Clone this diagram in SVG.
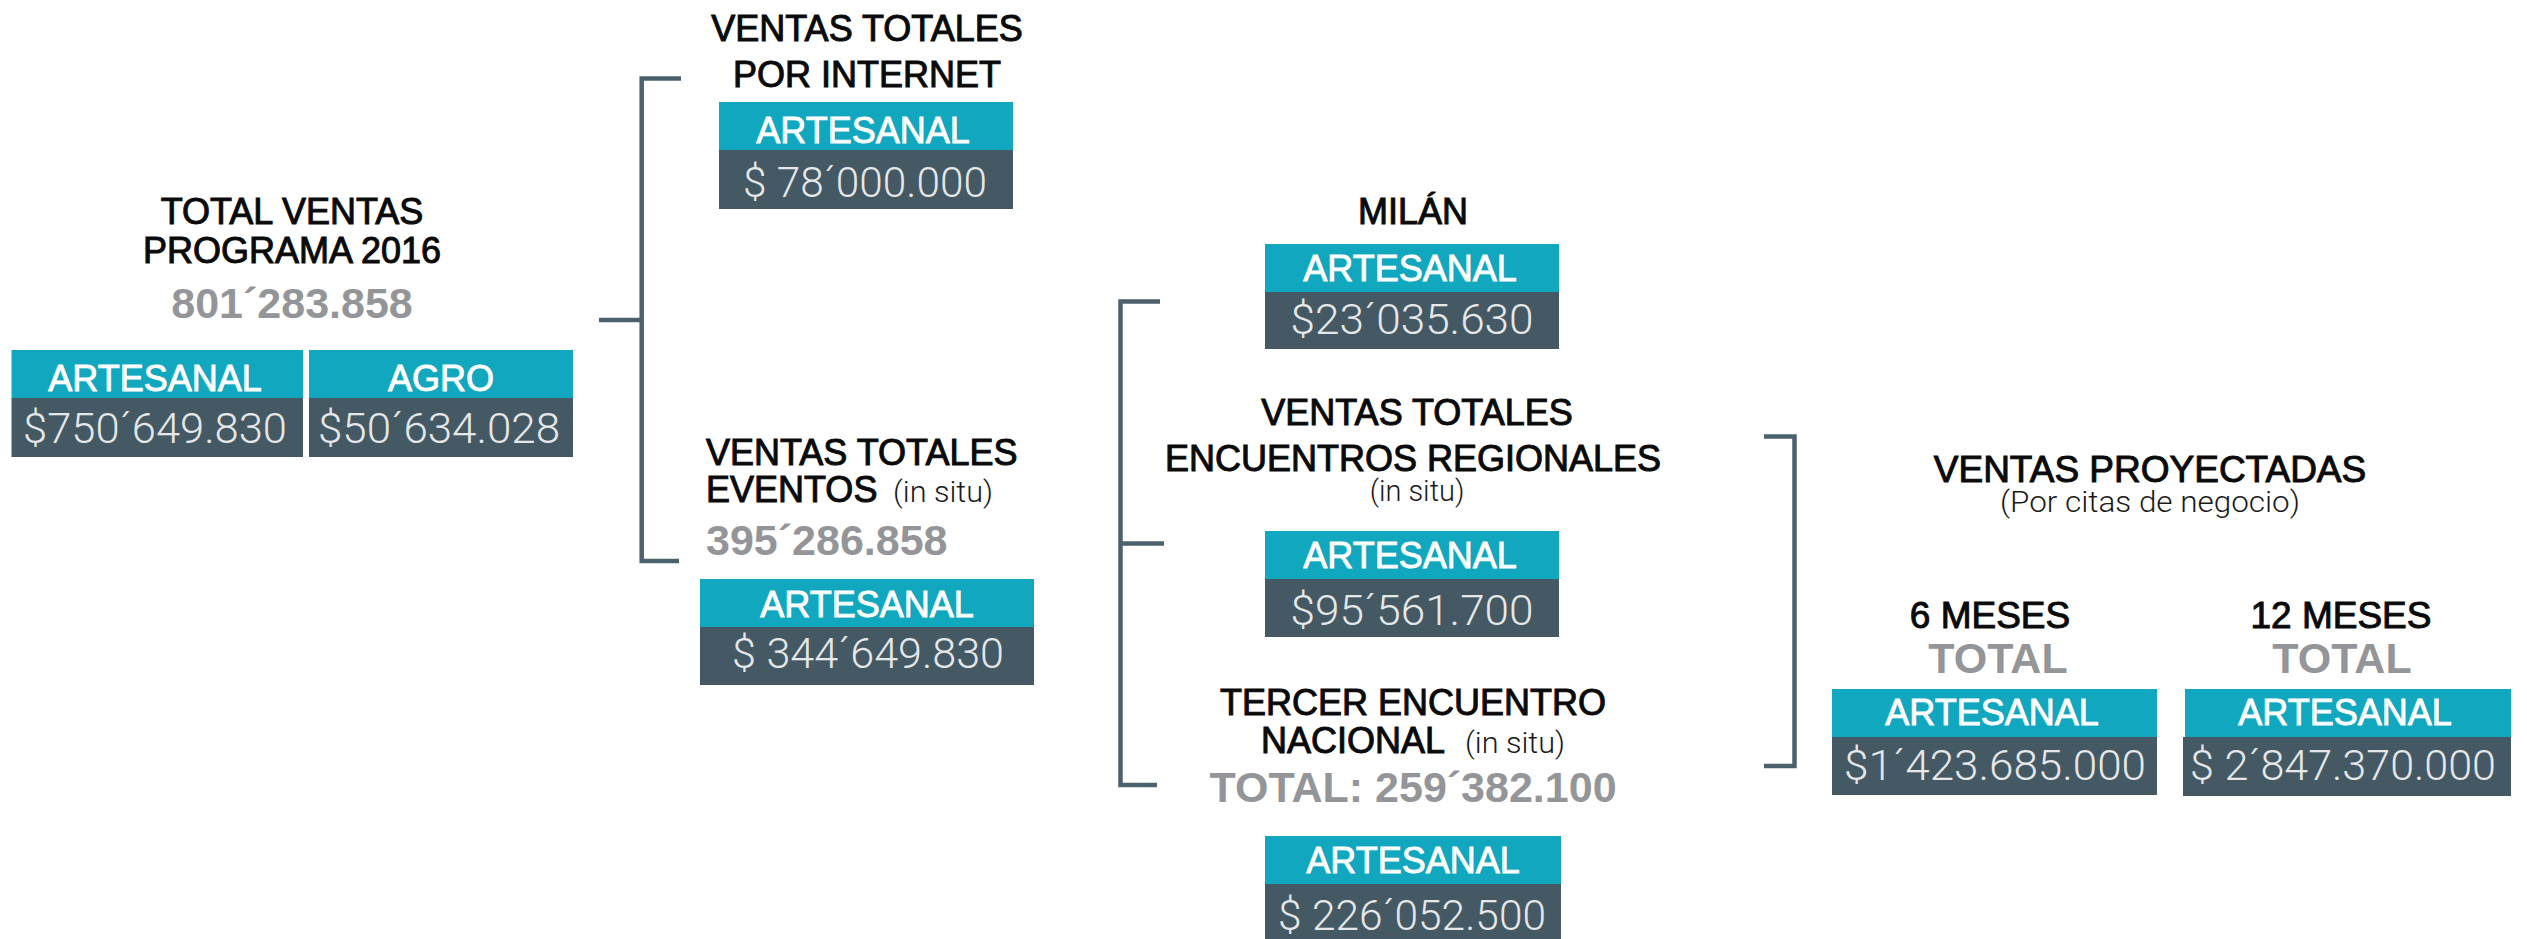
<svg xmlns="http://www.w3.org/2000/svg" width="2527" height="939" viewBox="0 0 2527 939">
<style>
.h{font-family:"Liberation Sans",Arial,sans-serif;font-size:36px;fill:#0a0a0a;stroke:#0a0a0a;stroke-width:1;text-anchor:middle}
.hs{text-anchor:start}
.t{font-family:"Liberation Sans",Arial,sans-serif;font-weight:bold;font-size:43px;fill:#939598;text-anchor:middle}
.lab{font-family:"Liberation Sans",Arial,sans-serif;font-size:36px;fill:#ffffff;stroke:#ffffff;stroke-width:0.9;text-anchor:middle}
.val{font-family:Roboto,"Liberation Sans",sans-serif;font-weight:300;font-size:42px;fill:#e6e7e8;text-anchor:middle}
.sub{font-family:Roboto,"Liberation Sans",sans-serif;font-weight:300;font-size:29px;fill:#1a1a1a;text-anchor:middle}
.teal{fill:#10a7bf}
.dark{fill:#445964}
.br{stroke:#4b616c;stroke-width:4.5;fill:none}
</style>
<rect width="2527" height="939" fill="#ffffff"/>
<g id="connectors">
<path class="br" d="M681,78.5 H641.7 V561 H679"/>
<path class="br" d="M599,320 H641.7"/>
<path class="br" d="M1160,301.5 H1120.5 V785 H1157"/>
<path class="br" d="M1120.5,543.5 H1164"/>
<path class="br" d="M1764,436.5 H1794.5 V766 H1764"/>
</g>
<g id="total-programa">
<text class="h" x="292" y="224">TOTAL VENTAS</text>
<text class="h" x="292" y="263">PROGRAMA 2016</text>
<text class="t" x="292" y="318">801´283.858</text>
<rect class="teal" x="11.5" y="350" width="291.5" height="48"/>
<rect class="dark" x="11.5" y="398" width="291.5" height="59"/>
<rect class="teal" x="309" y="350" width="264" height="48"/>
<rect class="dark" x="309" y="398" width="264" height="59"/>
<text class="lab" x="155" y="391">ARTESANAL</text>
<text class="lab" x="441" y="391">AGRO</text>
<text class="val" x="155" y="443" textLength="264" lengthAdjust="spacingAndGlyphs">$750´649.830</text>
<text class="val" x="439" y="443" textLength="242" lengthAdjust="spacingAndGlyphs">$50´634.028</text>
</g>
<g id="ventas-internet">
<text class="h" x="867" y="41">VENTAS TOTALES</text>
<text class="h" x="867" y="87">POR INTERNET</text>
<rect class="teal" x="719" y="102" width="294" height="48"/>
<rect class="dark" x="719" y="150" width="294" height="59"/>
<text class="lab" x="863" y="143">ARTESANAL</text>
<text class="val" x="865" y="197" textLength="244" lengthAdjust="spacingAndGlyphs">$ 78´000.000</text>
</g>
<g id="ventas-eventos">
<text class="h hs" x="706" y="465">VENTAS TOTALES</text>
<text class="h hs" x="706" y="502">EVENTOS</text>
<text class="sub" x="943" y="502" textLength="100" lengthAdjust="spacingAndGlyphs">(in situ)</text>
<text class="t" x="706" y="555" style="text-anchor:start">395´286.858</text>
<rect class="teal" x="700" y="579" width="334" height="48"/>
<rect class="dark" x="700" y="627" width="334" height="58"/>
<text class="lab" x="867" y="617">ARTESANAL</text>
<text class="val" x="868" y="668" textLength="272" lengthAdjust="spacingAndGlyphs">$ 344´649.830</text>
</g>
<g id="milan">
<text class="h" x="1413" y="224">MILÁN</text>
<rect class="teal" x="1265" y="244" width="294" height="48"/>
<rect class="dark" x="1265" y="292" width="294" height="57"/>
<text class="lab" x="1410" y="281">ARTESANAL</text>
<text class="val" x="1412" y="334" textLength="243" lengthAdjust="spacingAndGlyphs">$23´035.630</text>
</g>
<g id="encuentros-regionales">
<text class="h" x="1417" y="425">VENTAS TOTALES</text>
<text class="h" x="1413" y="471">ENCUENTROS REGIONALES</text>
<text class="sub" x="1417" y="501">(in situ)</text>
<rect class="teal" x="1265" y="531" width="294" height="48"/>
<rect class="dark" x="1265" y="579" width="294" height="58"/>
<text class="lab" x="1410" y="568">ARTESANAL</text>
<text class="val" x="1412" y="625" textLength="243" lengthAdjust="spacingAndGlyphs">$95´561.700</text>
</g>
<g id="encuentro-nacional">
<text class="h" x="1413" y="715">TERCER ENCUENTRO</text>
<text class="h hs" x="1261" y="753">NACIONAL</text>
<text class="sub" x="1515" y="753" textLength="100" lengthAdjust="spacingAndGlyphs">(in situ)</text>
<text class="t" x="1413" y="802">TOTAL: 259´382.100</text>
<rect class="teal" x="1265" y="836" width="296" height="48"/>
<rect class="dark" x="1265" y="884" width="296" height="55"/>
<text class="lab" x="1413" y="873">ARTESANAL</text>
<text class="val" x="1412" y="930" textLength="268" lengthAdjust="spacingAndGlyphs">$ 226´052.500</text>
</g>
<g id="ventas-proyectadas">
<text class="h" x="2150" y="482" style="font-size:37px">VENTAS PROYECTADAS</text>
<text class="sub" x="2150" y="512" textLength="300" lengthAdjust="spacingAndGlyphs">(Por citas de negocio)</text>
</g>
<g id="seis-meses">
<text class="h" x="1990" y="628" style="font-size:37px">6 MESES</text>
<text class="t" x="1998" y="673">TOTAL</text>
<rect class="teal" x="1832" y="689" width="325" height="48"/>
<rect class="dark" x="1832" y="737" width="325" height="58"/>
<text class="lab" x="1992" y="725">ARTESANAL</text>
<text class="val" x="1995" y="780" textLength="302" lengthAdjust="spacingAndGlyphs">$1´423.685.000</text>
</g>
<g id="doce-meses">
<text class="h" x="2341" y="628" style="font-size:37px">12 MESES</text>
<text class="t" x="2342" y="673">TOTAL</text>
<rect class="teal" x="2185" y="689" width="326" height="48"/>
<rect class="dark" x="2183" y="737" width="328" height="59"/>
<text class="lab" x="2345" y="725">ARTESANAL</text>
<text class="val" x="2343" y="780" textLength="306" lengthAdjust="spacingAndGlyphs">$ 2´847.370.000</text>
</g>
</svg>
